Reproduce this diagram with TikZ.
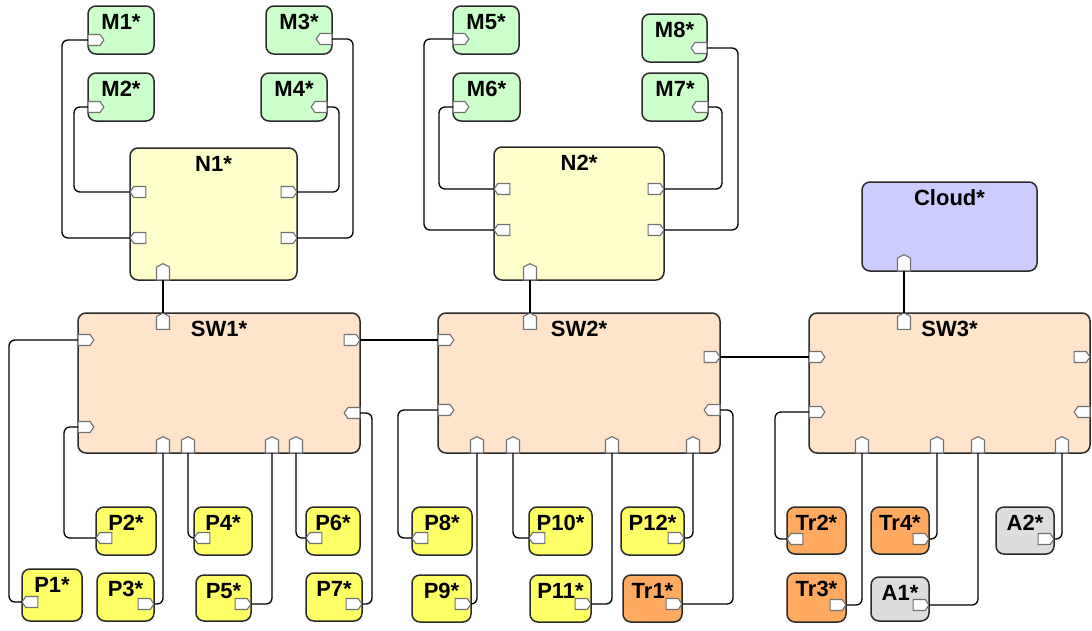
\documentclass[tikz,border=0pt]{standalone}
\usepackage{fontspec}
\setmainfont{Liberation Sans}
\usetikzlibrary{shapes.symbols}
\definecolor{cM}{HTML}{CCFFCC}
\definecolor{cN}{HTML}{FFFFCC}
\definecolor{cSW}{HTML}{FFE4CC}
\definecolor{cCl}{HTML}{CCCCFF}
\definecolor{cP}{HTML}{FFFF66}
\definecolor{cTr}{HTML}{FFAA60}
\definecolor{cA}{HTML}{DDDDDD}
\definecolor{edge}{HTML}{2A2A2A}
\definecolor{portgray}{HTML}{707070}
\newcommand\bx[7]{\node[#2, minimum width={(#5-#3)*1pt}, minimum height={(#6-#4)*1pt}, label={[ttl]north:#7}] (#1) at (#3,#4) {};}
\begin{document}
\begin{tikzpicture}[x=1pt,y=-1pt,
  box/.style={draw=edge, line width=1.5pt, rounded corners=8pt, anchor=north west, inner sep=0pt, outer sep=0pt},
  mbox/.style={box, fill=cM},
  nbox/.style={box, fill=cN},
  swbox/.style={box, fill=cSW},
  clbox/.style={box, fill=cCl},
  pbox/.style={box, fill=cP},
  trbox/.style={box, fill=cTr},
  abox/.style={box, fill=cA},
  ttl/.style={anchor=north, inner sep=0pt, outer sep=0pt, yshift=-8pt, font=\fontsize{22}{25}\selectfont\bfseries},
  prt/.style={signal, draw=portgray, fill=white, line width=1.1pt, outer sep=0pt, signal pointer angle=110, minimum size=0pt},
  ph/.style={prt, inner xsep=6pt, inner ysep=5.5pt},
  pv/.style={prt, inner xsep=6.5pt, inner ysep=6.5pt, signal pointer angle=125, signal to=north},
  conn/.style={draw=black, line width=1.3pt, rounded corners=6pt}]
\useasboundingbox (0,0) rectangle (1092,630);
% boxes
\bx{m1}{mbox}{88}{6}{154}{54}{M1*}
\bx{m2}{mbox}{88}{73}{154}{121}{M2*}
\bx{m3}{mbox}{266}{6}{332}{54}{M3*}
\bx{m4}{mbox}{261}{73}{327}{121}{M4*}
\bx{n1}{nbox}{130}{148}{297}{280}{N1*}
\bx{m5}{mbox}{453}{6}{519}{54}{M5*}
\bx{m6}{mbox}{453}{73}{520}{121}{M6*}
\bx{m8}{mbox}{642}{14}{707}{62}{M8*}
\bx{m7}{mbox}{642}{73}{708}{121}{M7*}
\bx{n2}{nbox}{494}{147}{664}{280}{N2*}
\bx{cl}{clbox}{862}{182}{1037}{271}{Cloud*}
\bx{sw1}{swbox}{78}{313}{360}{453}{SW1*}
\bx{sw2}{swbox}{438}{313}{720}{453}{SW2*}
\bx{sw3}{swbox}{809}{313}{1090}{453}{SW3*}
\bx{p1}{pbox}{22}{569}{82}{621}{P1*}
\bx{p2}{pbox}{96}{507}{156}{555}{P2*}
\bx{p3}{pbox}{97}{573}{154}{621}{P3*}
\bx{p4}{pbox}{194}{507}{252}{555}{P4*}
\bx{p5}{pbox}{196}{575}{251}{621}{P5*}
\bx{p6}{pbox}{306}{507}{360}{555}{P6*}
\bx{p7}{pbox}{306}{573}{362}{621}{P7*}
\bx{p8}{pbox}{412}{507}{472}{555}{P8*}
\bx{p9}{pbox}{412}{575}{471}{622}{P9*}
\bx{p10}{pbox}{529}{507}{592}{555}{P10*}
\bx{p11}{pbox}{530}{575}{591}{622}{P11*}
\bx{p12}{pbox}{621}{507}{684}{555}{P12*}
\bx{tr1}{trbox}{623}{575}{682}{622}{Tr1*}
\bx{tr2}{trbox}{787}{507}{846}{554}{Tr2*}
\bx{tr3}{trbox}{787}{573}{846}{622}{Tr3*}
\bx{tr4}{trbox}{871}{507}{929}{554}{Tr4*}
\bx{a1}{abox}{871}{577}{929}{621}{A1*}
\bx{a2}{abox}{996}{507}{1054}{554}{A2*}
% ports: M / N
\node[ph, signal to=east, anchor=west] (m1p) at (88,40) {};
\node[ph, signal to=east, anchor=west] (m2p) at (88,107) {};
\node[ph, signal to=west, anchor=east] (m3p) at (332,39) {};
\node[ph, signal to=west, anchor=east] (m4p) at (327,107) {};
\node[ph, signal to=west, anchor=west] (n1l1) at (130,192) {};
\node[ph, signal to=west, anchor=west] (n1l2) at (130,238) {};
\node[ph, signal to=east, anchor=east] (n1r1) at (297,192) {};
\node[ph, signal to=east, anchor=east] (n1r2) at (297,238) {};
\node[pv, anchor=south] (n1b) at (163,280) {};
\node[ph, signal to=east, anchor=west] (m5p) at (453,39) {};
\node[ph, signal to=east, anchor=west] (m6p) at (453,107) {};
\node[ph, signal to=west, anchor=east] (m8p) at (707,48) {};
\node[ph, signal to=west, anchor=east] (m7p) at (708,107) {};
\node[ph, signal to=west, anchor=west] (n2l1) at (494,189) {};
\node[ph, signal to=west, anchor=west] (n2l2) at (494,230) {};
\node[ph, signal to=east, anchor=east] (n2r1) at (664,189) {};
\node[ph, signal to=east, anchor=east] (n2r2) at (664,230) {};
\node[pv, anchor=south] (n2b) at (530,280) {};
\node[pv, anchor=south] (clb) at (904,271) {};
% ports: switches
\node[pv, anchor=north] (sw1t) at (163,313) {};
\node[ph, signal to=east, anchor=west] (sw1l1) at (78,340) {};
\node[ph, signal to=east, anchor=west] (sw1l2) at (78,427) {};
\node[ph, signal to=east, anchor=east] (sw1r1) at (360,340) {};
\node[ph, signal to=west, anchor=east] (sw1r2) at (360,413) {};
\node[pv, anchor=south] (sw1b1) at (163,453) {};
\node[pv, anchor=south] (sw1b2) at (188,453) {};
\node[pv, anchor=south] (sw1b3) at (272,453) {};
\node[pv, anchor=south] (sw1b4) at (296,453) {};
\node[pv, anchor=north] (sw2t) at (530,313) {};
\node[ph, signal to=east, anchor=west] (sw2l1) at (438,340) {};
\node[ph, signal to=east, anchor=west] (sw2l2) at (438,410) {};
\node[ph, signal to=east, anchor=east] (sw2r1) at (720,357) {};
\node[ph, signal to=west, anchor=east] (sw2r2) at (720,410) {};
\node[pv, anchor=south] (sw2b1) at (477,453) {};
\node[pv, anchor=south] (sw2b2) at (513,453) {};
\node[pv, anchor=south] (sw2b3) at (612,453) {};
\node[pv, anchor=south] (sw2b4) at (693,453) {};
\node[pv, anchor=north] (sw3t) at (904,313) {};
\node[ph, signal to=east, anchor=west] (sw3l1) at (809,357) {};
\node[ph, signal to=east, anchor=west] (sw3l2) at (809,412) {};
\node[ph, signal to=east, anchor=east] (sw3r1) at (1090,357) {};
\node[ph, signal to=west, anchor=east] (sw3r2) at (1090,412) {};
\node[pv, anchor=south] (sw3b1) at (862,453) {};
\node[pv, anchor=south] (sw3b2) at (937,453) {};
\node[pv, anchor=south] (sw3b3) at (978,453) {};
\node[pv, anchor=south] (sw3b4) at (1062,453) {};
% ports: end devices
\node[ph, signal to=west, anchor=west] (p1p) at (22,602) {};
\node[ph, signal to=west, anchor=west] (p2p) at (96,538) {};
\node[ph, signal to=east, anchor=east] (p3p) at (154,604) {};
\node[ph, signal to=west, anchor=west] (p4p) at (194,538) {};
\node[ph, signal to=east, anchor=east] (p5p) at (251,604) {};
\node[ph, signal to=west, anchor=west] (p6p) at (306,538) {};
\node[ph, signal to=east, anchor=east] (p7p) at (362,604) {};
\node[ph, signal to=west, anchor=west] (p8p) at (412,538) {};
\node[ph, signal to=east, anchor=east] (p9p) at (471,604) {};
\node[ph, signal to=west, anchor=west] (p10p) at (529,538) {};
\node[ph, signal to=east, anchor=east] (p11p) at (591,604) {};
\node[ph, signal to=east, anchor=east] (p12p) at (684,538) {};
\node[ph, signal to=east, anchor=east] (tr1p) at (682,604) {};
\node[ph, signal to=west, anchor=west] (tr2p) at (787,539) {};
\node[ph, signal to=east, anchor=east] (tr3p) at (846,605) {};
\node[ph, signal to=east, anchor=east] (tr4p) at (929,539) {};
\node[ph, signal to=east, anchor=east] (a1p) at (929,605) {};
\node[ph, signal to=east, anchor=east] (a2p) at (1054,539) {};
% connectors
\draw[conn] (m1p.west) -- ++(-26,0) |- (n1l2.west);
\draw[conn] (m2p.west) -- ++(-14,0) |- (n1l1.west);
\draw[conn] (m3p.east) -- ++(21,0) |- (n1r2.east);
\draw[conn] (m4p.east) -- ++(12,0) |- (n1r1.east);
\draw[conn] (n1b.south) -- (sw1t.north);
\draw[conn] (m5p.west) -- ++(-29,0) |- (n2l2.west);
\draw[conn] (m6p.west) -- ++(-14,0) |- (n2l1.west);
\draw[conn] (m8p.east) -- ++(31,0) |- (n2r2.east);
\draw[conn] (m7p.east) -- ++(14,0) |- (n2r1.east);
\draw[conn] (n2b.south) -- (sw2t.north);
\draw[conn] (clb.south) -- (sw3t.north);
\draw[conn] (sw1r1.east) -- (sw2l1.west);
\draw[conn] (sw2r1.east) -- (sw3l1.west);
\draw[conn] (sw1l1.west) -- ++(-69,0) |- (p1p.west);
\draw[conn] (sw1l2.west) -- ++(-14,0) |- (p2p.west);
\draw[conn] (sw1b1.south) |- (p3p.east);
\draw[conn] (sw1b2.south) |- (p4p.west);
\draw[conn] (sw1b3.south) |- (p5p.east);
\draw[conn] (sw1b4.south) |- (p6p.west);
\draw[conn] (sw1r2.east) -- ++(12,0) |- (p7p.east);
\draw[conn] (sw2l2.west) -- ++(-40,0) |- (p8p.west);
\draw[conn] (sw2b1.south) |- (p9p.east);
\draw[conn] (sw2b2.south) |- (p10p.west);
\draw[conn] (sw2b3.south) |- (p11p.east);
\draw[conn] (sw2b4.south) |- (p12p.east);
\draw[conn] (sw2r2.east) -- ++(13,0) |- (tr1p.east);
\draw[conn] (sw3l2.west) -- ++(-34,0) |- (tr2p.west);
\draw[conn] (sw3b1.south) |- (tr3p.east);
\draw[conn] (sw3b2.south) |- (tr4p.east);
\draw[conn] (sw3b3.south) |- (a1p.east);
\draw[conn] (sw3b4.south) |- (a2p.east);
\end{tikzpicture}
\end{document}
